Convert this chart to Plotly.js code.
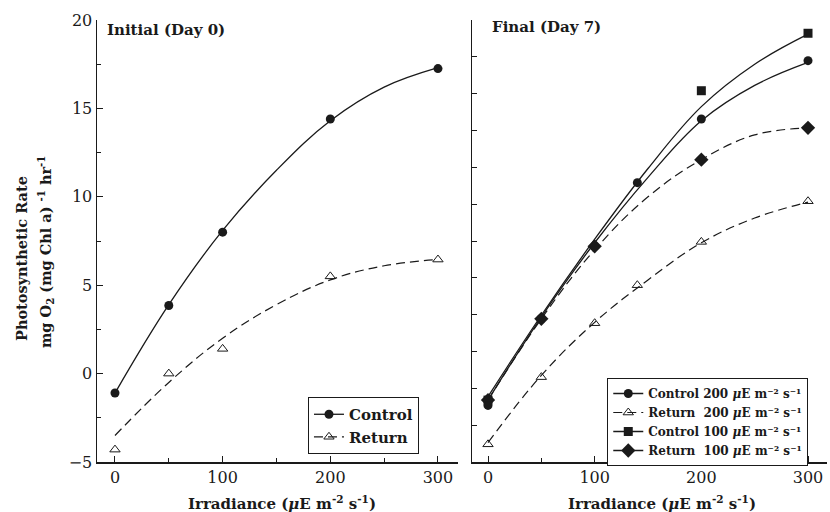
<!DOCTYPE html>
<html>
<head>
<meta charset="utf-8">
<script src="https://cdn.plot.ly/plotly-3.0.1.min.js"></script>
<style>html,body{margin:0;padding:0;background:#fff}#chart{width:830px;height:512px}</style>
</head>
<body>
<div id="chart"></div>
<script>
// ---- Data ----
// Initial (Day 0)
const xInit = [0, 50, 100, 200, 300];
const initControl = [-1.1, 3.85, 8.0, 14.4, 17.25];
const initReturn = [-4.3, 0.0, 1.4, 5.5, 6.45];
// fitted curves (at these irradiances)
const fitX = [0, 50, 100, 150, 200, 250, 300];
const initControlFit = [-1.1, 3.9, 8.1, 11.5, 14.3, 16.2, 17.3];
const initReturnFit = [-3.5, -0.5, 2.0, 3.9, 5.3, 6.1, 6.45];

// Final (Day 7)
const xFinal = [0, 50, 100, 140, 200, 300];
const finControl200 = [-1.8, 3.1, 7.2, 10.8, 14.4, 17.7];
const finReturn200 = [-4.0, -0.2, 2.85, 5.0, 7.45, 9.75];
const xCtl100 = [0, 200, 300];
const finControl100 = [-1.5, 16.0, 19.25];
const xRet100 = [0, 50, 100, 200, 300];
const finReturn100 = [-1.5, 3.1, 7.2, 12.1, 13.9];
const finControl200Fit = [-1.5, 3.2, 7.4, 11.1, 14.3, 16.3, 17.6];
const finReturn200Fit = [-3.9, -0.1, 2.9, 5.3, 7.4, 8.8, 9.7];
const finControl100Fit = [-1.3, 3.3, 7.6, 11.6, 15.1, 17.5, 19.2];
const finReturn100Fit = [-1.5, 3.1, 7.0, 10.0, 12.1, 13.5, 13.9];

const leftNames = ['Control', 'Return'];
const rightNames = [
  'Control 200 <i>μ</i>E m⁻² s⁻¹',
  'Return  200 <i>μ</i>E m⁻² s⁻¹',
  'Control 100 <i>μ</i>E m⁻² s⁻¹',
  'Return  100 <i>μ</i>E m⁻² s⁻¹'
];

const INK = '#1a1a1a';
const SERIF = '"DejaVu Serif", "Liberation Serif", serif';
const solid = {color: INK, width: 1.3, shape: 'spline', smoothing: 1.1};
const dashed = {color: INK, width: 1.2, shape: 'spline', smoothing: 1.1, dash: '9px,5px'};
const mCircle = {symbol: 'circle', size: 9, color: INK};
const mTri = {symbol: 'triangle-up-open', size: 9, color: INK, line: {width: 1}};
const mSquare = {symbol: 'square', size: 9, color: INK};
const mDiamond = {symbol: 'diamond', size: 11, color: INK};

function fitTrace(x, y, line, xa, ya) {
  return {x: x, y: y, mode: 'lines', line: line, xaxis: xa, yaxis: ya, showlegend: false, hoverinfo: 'skip'};
}
function ptTrace(x, y, marker, xa, ya) {
  return {x: x, y: y, mode: 'markers', marker: marker, xaxis: xa, yaxis: ya, showlegend: false};
}
function legTrace(name, line, marker, legend) {
  return {x: [null], y: [null], mode: 'lines+markers', name: name,
          line: {color: line.color, width: line.width, dash: line.dash || 'solid'},
          marker: marker, legend: legend, showlegend: true,
          xaxis: legend === 'legend' ? 'x' : 'x2', yaxis: legend === 'legend' ? 'y' : 'y2'};
}

const data = [
  fitTrace(fitX, initControlFit, solid, 'x', 'y'),
  fitTrace(fitX, initReturnFit, dashed, 'x', 'y'),
  ptTrace(xInit, initControl, mCircle, 'x', 'y'),
  ptTrace(xInit, initReturn, mTri, 'x', 'y'),
  legTrace(leftNames[0], solid, mCircle, 'legend'),
  legTrace(leftNames[1], dashed, mTri, 'legend'),

  fitTrace(fitX, finControl100Fit, solid, 'x2', 'y2'),
  fitTrace(fitX, finControl200Fit, solid, 'x2', 'y2'),
  fitTrace(fitX, finReturn100Fit, dashed, 'x2', 'y2'),
  fitTrace(fitX, finReturn200Fit, dashed, 'x2', 'y2'),
  ptTrace(xCtl100, finControl100, mSquare, 'x2', 'y2'),
  ptTrace(xRet100, finReturn100, mDiamond, 'x2', 'y2'),
  ptTrace(xFinal, finControl200, mCircle, 'x2', 'y2'),
  ptTrace(xFinal, finReturn200, mTri, 'x2', 'y2'),
  legTrace(rightNames[0], solid, mCircle, 'legend2'),
  legTrace(rightNames[1], dashed, mTri, 'legend2'),
  legTrace(rightNames[2], solid, mSquare, 'legend2'),
  legTrace(rightNames[3], solid, mDiamond, 'legend2')
];

const tickFont = {family: SERIF, size: 16, color: INK};
const xCommon = {
  showgrid: false, zeroline: false, showline: true, linecolor: INK, linewidth: 1.5,
  ticks: 'inside', ticklen: 6, tickwidth: 1, tickcolor: INK, dtick: 100, tick0: 0,
  minor: {dtick: 50, ticks: 'inside', ticklen: 4, tickcolor: INK},
  tickfont: tickFont, fixedrange: true
};

const layout = {
  width: 830, height: 512,
  margin: {l: 97, r: 3, t: 20, b: 50},
  paper_bgcolor: '#fff', plot_bgcolor: '#fff',
  font: {family: SERIF, color: INK},
  xaxis: Object.assign({}, xCommon, {domain: [0, 0.4945], range: [-16.7, 318.6], anchor: 'y'}),
  xaxis2: Object.assign({}, xCommon, {domain: [0.5137, 1], range: [-15, 317.8], anchor: 'y2'}),
  yaxis: {
    domain: [0, 1], range: [-5, 20], anchor: 'x', showgrid: false, zeroline: false,
    showline: true, linecolor: INK, linewidth: 1.5, ticks: 'inside', ticklen: 6, tickcolor: INK,
    dtick: 5, tick0: 0, minor: {dtick: 2.5, ticks: 'inside', ticklen: 4, tickcolor: INK},
    tickfont: tickFont, fixedrange: true
  },
  yaxis2: {
    domain: [0, 1], range: [-5, 20], anchor: 'x2', showgrid: false, zeroline: false,
    showline: true, linecolor: INK, linewidth: 1.5, ticks: 'inside', ticklen: 5, tickcolor: INK,
    dtick: 25 / 12, tick0: -5, showticklabels: false, fixedrange: true
  },
  legend: {
    x: 0.289, y: 0.147, xanchor: 'left', yanchor: 'top', bgcolor: '#fff',
    bordercolor: INK, borderwidth: 1, font: {family: SERIF, size: 15, color: INK, weight: 'bold'},
    tracegroupgap: 0, itemwidth: 30
  },
  legend2: {
    x: 0.699, y: 0.19, xanchor: 'left', yanchor: 'top', bgcolor: '#fff',
    bordercolor: INK, borderwidth: 1, font: {family: SERIF, size: 12, color: INK, weight: 'bold'},
    tracegroupgap: 0, itemwidth: 30
  },
  annotations: [
    {text: '<b>Initial (Day 0)</b>', xref: 'paper', yref: 'paper', x: 0.011, y: 0.977,
     xanchor: 'left', yanchor: 'middle', showarrow: false, font: {family: SERIF, size: 15, color: INK}},
    {text: '<b>Final (Day 7)</b>', xref: 'paper', yref: 'paper', x: 0.538, y: 0.984,
     xanchor: 'left', yanchor: 'middle', showarrow: false, font: {family: SERIF, size: 15, color: INK}},
    {text: '<b>Photosynthetic Rate</b>',
     xref: 'paper', yref: 'paper', x: (21 - 97) / 730, y: (462 - 259) / 442, textangle: -90,
     xanchor: 'center', yanchor: 'middle', showarrow: false, font: {family: SERIF, size: 14.5, color: INK}},
    {text: '<b>mg O<sub>2</sub> (mg Chl a) <sup>-1</sup> hr<sup>-1</sup></b>',
     xref: 'paper', yref: 'paper', x: (45 - 97) / 730, y: (462 - 252) / 442, textangle: -90,
     xanchor: 'center', yanchor: 'middle', showarrow: false, font: {family: SERIF, size: 14.5, color: INK}},
    {text: '<b>Irradiance (<i>μ</i>E m<sup>-2</sup> s<sup>-1</sup>)</b>', xref: 'paper', yref: 'paper',
     x: (282 - 97) / 730, y: (462 - 503) / 442, xanchor: 'center', yanchor: 'middle', showarrow: false,
     font: {family: SERIF, size: 15, color: INK}},
    {text: '<b>Irradiance (<i>μ</i>E m<sup>-2</sup> s<sup>-1</sup>)</b>', xref: 'paper', yref: 'paper',
     x: (662 - 97) / 730, y: (462 - 503) / 442, xanchor: 'center', yanchor: 'middle', showarrow: false,
     font: {family: SERIF, size: 15, color: INK}}
  ]
};

Plotly.newPlot('chart', data, layout, {staticPlot: true, displayModeBar: false});
</script>
</body>
</html>
